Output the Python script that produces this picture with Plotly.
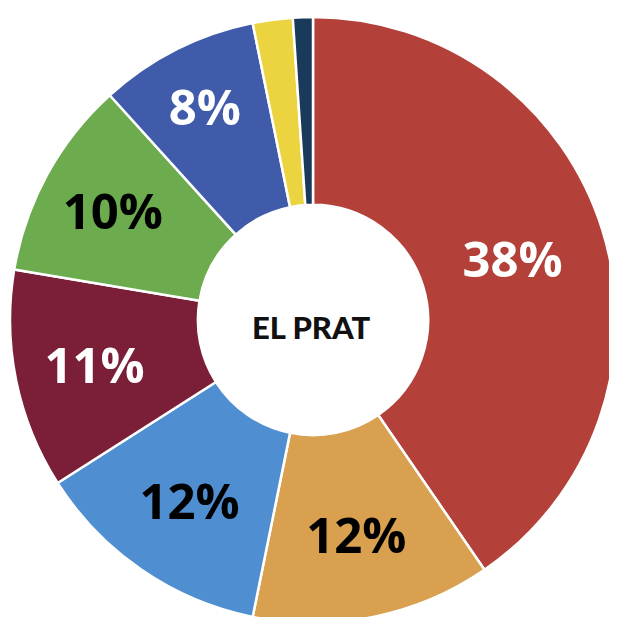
import plotly.graph_objects as go

# vote share, clockwise from 12 o'clock
parties = ["A", "B", "C", "D", "E", "F", "G", "H"]
shares = [38, 12, 12, 11, 10, 8, 2, 1]
labels = ["38%", "12%", "12%", "11%", "10%", "8%", "", ""]
colors = ["#B3413A", "#D8A04F", "#4F8FD1", "#7B1F38", "#6DAB4F", "#3F5BAA", "#EBD43F", "#1A3A5C"]
text_colors = ["white", "black", "black", "white", "black", "white", "white", "white"]

W, H = 617, 617
# pie box in page pixels (body margin of 8px comes on top): left, right, top, bottom
L, R, T, B = 2, 608, 9, 615

fig = go.Figure(go.Pie(
    labels=parties,
    values=shares,
    text=labels,
    textinfo="text",
    textposition="inside",
    insidetextorientation="horizontal",
    textfont=dict(family="Open Sans", size=49, color=text_colors, weight="bold"),
    marker=dict(colors=colors, line=dict(color="white", width=2.5)),
    hole=0.38,
    sort=False,
    direction="clockwise",
    rotation=0,
    domain=dict(x=[L / W, R / W], y=[(H - B) / H, (H - T) / H]),
    showlegend=False,
    hoverinfo="skip",
))

fig.add_annotation(
    text="EL PRAT", x=303 / W, y=(H - 319) / H, xref="paper", yref="paper",
    showarrow=False,
    font=dict(family="Liberation Sans Narrow, Lato, sans-serif", size=31, color="#111", weight=900),
)

fig.update_layout(
    width=W, height=H,
    margin=dict(l=0, r=0, t=0, b=0),
    paper_bgcolor="white",
    plot_bgcolor="white",
)

fig.write_html("out.html")
